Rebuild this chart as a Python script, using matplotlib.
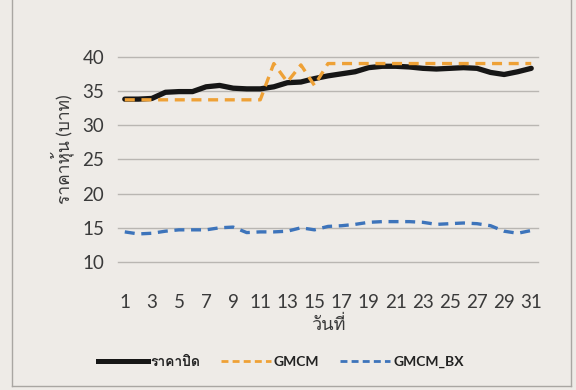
import matplotlib
matplotlib.use("Agg")
import matplotlib.pyplot as plt
from matplotlib import font_manager
from matplotlib.ft2font import FT2Font
from matplotlib.lines import Line2D

# ---- data ----
days = list(range(1, 32))
close_price = [33.8, 33.8, 33.9, 34.8, 34.9, 34.9, 35.6, 35.8, 35.4, 35.3,
               35.3, 35.6, 36.2, 36.3, 36.8, 37.2, 37.5, 37.8, 38.4, 38.6,
               38.6, 38.5, 38.3, 38.2, 38.3, 38.4, 38.3, 37.7, 37.4, 37.8, 38.3]
gmcm = [33.7, 33.7, 33.7, 33.7, 33.7, 33.7, 33.7, 33.7, 33.7, 33.7,
        33.7, 39.0, 36.3, 38.8, 35.8, 39.0, 39.0, 39.0, 39.0, 39.0,
        39.0, 39.0, 39.0, 39.0, 39.0, 39.0, 39.0, 39.0, 39.0, 39.0, 39.0]
gmcm_bx = [14.4, 14.1, 14.2, 14.5, 14.7, 14.7, 14.7, 15.0, 15.1, 14.3,
           14.4, 14.4, 14.5, 15.0, 14.7, 15.2, 15.3, 15.5, 15.8, 15.9,
           15.9, 15.9, 15.8, 15.5, 15.6, 15.7, 15.6, 15.3, 14.5, 14.2, 14.6]
yticks = [10, 15, 20, 25, 30, 35, 40]
xticks = list(range(1, 32, 2))
series_names = ["ราคาปิด", "GMCM", "GMCM_BX"]
xlabel = "วันที่"
ylabel = "ราคาหุ้น (บาท)"

# ---- find a font with Thai glyphs ----
thai_family = None
for f in font_manager.fontManager.ttflist:
    try:
        cm = FT2Font(f.fname).get_charmap()
        if 0x0E23 in cm and 0x0E32 in cm:
            thai_family = f.name
            break
    except Exception:
        pass
fams = ["Lato", "DejaVu Sans"]
if thai_family:
    fams = ["Lato", thai_family, "DejaVu Sans"]
plt.rcParams["font.family"] = fams

bg = "#eeebe7"
fig = plt.figure(figsize=(5.76, 3.90), dpi=100, facecolor=bg)
W, H = 576, 390
ax = fig.add_axes([118 / W, 1 - 262 / H, 420 / W, (262 - 56.7) / H])
ax.set_facecolor(bg)

ax.plot(days, close_price, color="#161616", lw=3.8, solid_capstyle="round",
        solid_joinstyle="round", zorder=3)
ax.plot(days, gmcm, color="#eea136", lw=2.4, dashes=(3, 2), zorder=4)
ax.plot(days, gmcm_bx, color="#3d74bb", lw=2.4, dashes=(3, 2), zorder=4)

ax.set_xlim(0.5, 31.5)
ax.set_ylim(10, 40)
ax.set_yticks(yticks)
ax.set_xticks(xticks)
ax.grid(axis="y", color="#b9b6b2", lw=1)
ax.set_axisbelow(True)
for gl in ax.get_ygridlines():
    gl.set_clip_on(False)
for s in ax.spines.values():
    s.set_visible(False)
ax.tick_params(axis="both", length=0, labelsize=13.5, colors="#3a3a3a")
ax.tick_params(axis="x", pad=23)
ax.tick_params(axis="y", pad=10)
ax.set_xlabel(xlabel, fontsize=13, color="#3a3a3a", labelpad=3)
ax.set_ylabel(ylabel, fontsize=12.5, color="#3a3a3a")
ax.yaxis.set_label_coords(-0.105, 0.55)

handles = [
    Line2D([], [], color="#161616", lw=3.6),
    Line2D([], [], color="#eea136", lw=2.0, dashes=(2.5, 1.5)),
    Line2D([], [], color="#3d74bb", lw=2.0, dashes=(2.5, 1.5)),
]
fig.legend(handles, series_names, loc="center", bbox_to_anchor=(0.487, 1 - 362 / H),
           ncol=3, frameon=False, handlelength=3.6, handletextpad=0.2,
           columnspacing=1.5, labelcolor="#222222",
           prop={"weight": "bold", "size": 10})

# outer chart frame
fr = dict(color="#a9a6a2", lw=1, transform=fig.transFigure)
fig.add_artist(Line2D([12 / W, 12 / W], [1 - 386 / H, 1.0], **fr))
fig.add_artist(Line2D([12 / W, 571 / W], [1 - 386 / H, 1 - 386 / H], **fr))
fig.add_artist(Line2D([571 / W, 571 / W], [1 - 386 / H, 1.0], **fr))

fig.savefig("out.png", dpi=100, facecolor=bg)
